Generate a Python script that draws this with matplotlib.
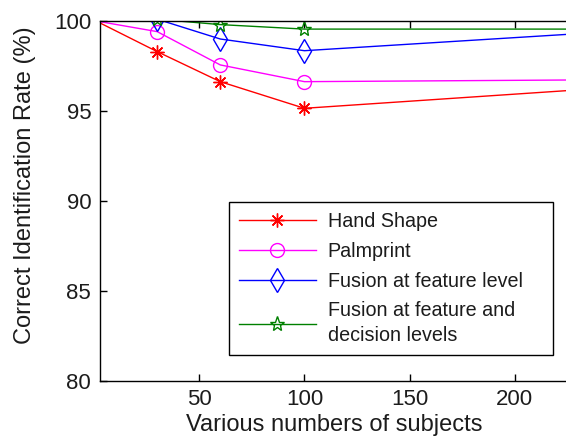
import numpy as np
import matplotlib.pyplot as plt

# subjects (first and last points sit on / past the axes edges)
subjects = [1, 30, 60, 100, 250]
hand_shape = [100, 98.3, 96.63, 95.15, 96.33]
palmprint = [100, 99.41, 97.56, 96.63, 96.74]
fusion_feature = [100, 100.1, 99.0, 98.35, 99.44]
fusion_decision = [100, 100.1, 99.8, 99.55, 99.55]

xticks = [50, 100, 150, 200]
yticks = [80, 85, 90, 95, 100]


def main():
    plt.rcParams['font.family'] = ['Liberation Sans', 'DejaVu Sans']
    txt = '#1c1c1c'
    fig = plt.figure(figsize=(5.66, 4.46), dpi=100)
    # axes run to the right edge of the image, the right spine is cut off
    ax = fig.add_axes([99.5 / 566, 65 / 446, 470 / 566, 360 / 446])

    mk = [1, 2, 3]
    ax.plot(subjects, hand_shape, color='#ff0000', lw=1.0, marker=(8, 2, 0),
            ms=10, mew=1.0, markevery=mk, label='Hand Shape')
    ax.plot(subjects, palmprint, color='#ff00ff', lw=1.0, marker='o',
            ms=10, mfc='none', mew=1.0, markevery=mk, label='Palmprint')
    ax.plot(subjects, fusion_feature, color='#0000ff', lw=1.0, marker='d',
            ms=12, mfc='none', mew=1.0, markevery=mk,
            label='Fusion at feature level')
    ax.plot(subjects, fusion_decision, color='#008000', lw=1.0, marker='*',
            ms=11, mfc='none', mew=1.0, markevery=mk,
            label='Fusion at feature and\ndecision levels')

    ax.set_xlim(2.6, 226)
    ax.set_ylim(80, 100)
    ax.set_xticks(xticks)
    ax.set_yticks(yticks)
    ax.tick_params(direction='in', length=5, width=1, top=True, right=False,
                   labelsize=16, colors='black', labelcolor=txt, pad=6)
    for s in ax.spines.values():
        s.set_linewidth(1.0)
    ax.set_xlabel('Various numbers of subjects', fontsize=17, color=txt,
                  labelpad=3)
    ax.set_ylabel('Correct Identification Rate (%)', fontsize=17, color=txt)
    ax.yaxis.set_label_coords(-0.135, 0.545)

    leg = ax.legend(loc='upper left',
                    bbox_to_anchor=(229 / 566, 1 - 357 / 446, 324 / 566, 155 / 446),
                    bbox_transform=fig.transFigure, mode='expand',
                    borderaxespad=0, fontsize=14.2,
                    fancybox=False, edgecolor='black', framealpha=1,
                    handlelength=3.9, labelspacing=0.55, borderpad=0.5,
                    handletextpad=0.6)
    leg.get_frame().set_linewidth(1.0)
    for t in leg.get_texts():
        t.set_color(txt)
        t.set_linespacing(1.35)

    fig.savefig('out.png', dpi=100)


if __name__ == '__main__':
    main()
